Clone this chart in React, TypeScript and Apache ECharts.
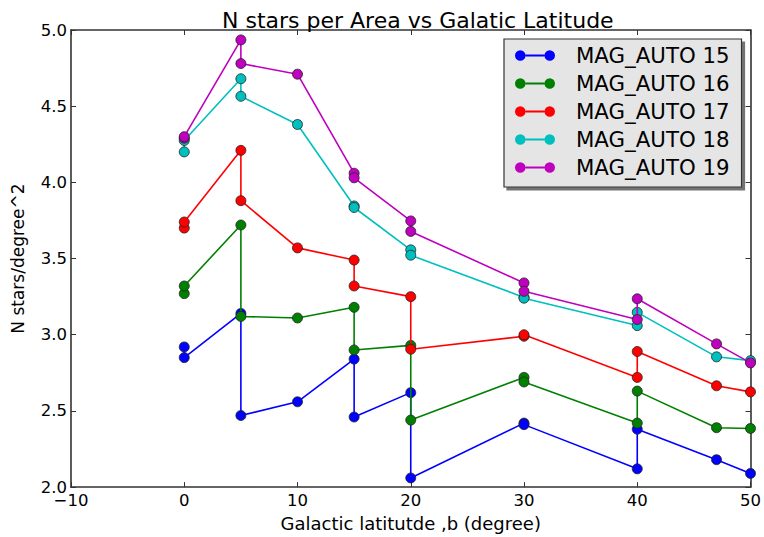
import React, { useEffect, useRef } from "react";
import * as echarts from "echarts";

const seriesNames = ["MAG_AUTO 15", "MAG_AUTO 16", "MAG_AUTO 17", "MAG_AUTO 18", "MAG_AUTO 19"];
const seriesColors = ["#0000ff", "#008000", "#ff0000", "#00bfbf", "#bf00bf"];

const mag15: [number, number][] = [
  [0, 2.92], [0, 2.85], [5, 3.14], [5, 2.47], [10, 2.56], [15, 2.84], [15, 2.46],
  [20, 2.62], [20, 2.06], [30, 2.42], [30, 2.41], [40, 2.12], [40, 2.38], [47, 2.18], [50, 2.09],
];
const mag16: [number, number][] = [
  [0, 3.27], [0, 3.32], [5, 3.72], [5, 3.12], [10, 3.11], [15, 3.18], [15, 2.9],
  [20, 2.93], [20, 2.44], [30, 2.72], [30, 2.69], [40, 2.42], [40, 2.63], [47, 2.39], [50, 2.385],
];
const mag17: [number, number][] = [
  [0, 3.7], [0, 3.74], [5, 4.21], [5, 3.88], [10, 3.57], [15, 3.49], [15, 3.32],
  [20, 3.25], [20, 2.905], [30, 2.99], [30, 3.0], [40, 2.72], [40, 2.89], [47, 2.665], [50, 2.625],
];
const mag18: [number, number][] = [
  [0, 4.2], [0, 4.275], [5, 4.68], [5, 4.565], [10, 4.38], [15, 3.845], [15, 3.835],
  [20, 3.557], [20, 3.522], [30, 3.245], [30, 3.24], [40, 3.06], [40, 3.147], [47, 2.855], [50, 2.83],
];
const mag19: [number, number][] = [
  [0, 4.29], [0, 4.3], [5, 4.935], [5, 4.78], [10, 4.71], [15, 4.06], [15, 4.03],
  [20, 3.747], [20, 3.678], [30, 3.34], [30, 3.285], [40, 3.1], [40, 3.236], [47, 2.94], [50, 2.815],
];
const seriesData = [mag15, mag16, mag17, mag18, mag19];

const xTicks = { min: -10, max: 50, interval: 10 };
const yTicks = { min: 2.0, max: 5.0, interval: 0.5 };

const FONT = "DejaVu Sans";
const legendIcon =
  "path://M1,6 A5,5 0 1 1 11,6 A5,5 0 1 1 1,6 Z M11,5.1 L29,5.1 L29,6.9 L11,6.9 Z M29,6 A5,5 0 1 1 39,6 A5,5 0 1 1 29,6 Z";

export default function App() {
  const ref = useRef<HTMLDivElement>(null);
  useEffect(() => {
    if (!ref.current) return;
    document.body.style.margin = "0";
    const chart = echarts.init(ref.current, undefined, { renderer: "svg" });
    const axisLine = { show: true, onZero: false, lineStyle: { color: "#333", width: 1.6 } };
    const axisTick = { show: true, inside: true, length: 5, lineStyle: { color: "#333", width: 1 } };
    chart.setOption({
      animation: false,
      backgroundColor: "#fff",
      textStyle: { fontFamily: FONT },
      title: {
        text: "N stars per Area vs Galatic Latitude",
        left: 217,
        top: 4,
        textStyle: { fontFamily: FONT, fontSize: 22, fontWeight: "normal", color: "#000" },
      },
      grid: { left: 71, right: 12.5, top: 30, bottom: 44.3, containLabel: false },
      legend: {
        orient: "vertical",
        left: 504,
        top: 39,
        padding: [6, 12, 9, 11],
        itemWidth: 40,
        itemHeight: 12,
        itemGap: 7,
        icon: legendIcon,
        backgroundColor: "#e5e5e5",
        borderColor: "#333",
        borderWidth: 1.2,
        borderRadius: 0,
        shadowColor: "rgba(0,0,0,0.55)",
        shadowOffsetX: 3,
        shadowOffsetY: 3,
        shadowBlur: 1,
        itemStyle: { borderWidth: 0 },
        textStyle: {
          fontFamily: FONT,
          fontSize: 21.3,
          lineHeight: 21,
          color: "#000",
          padding: [0, 0, 0, 16],
        },
        data: seriesNames,
      },
      xAxis: [
        {
          type: "value",
          min: xTicks.min,
          max: xTicks.max,
          interval: xTicks.interval,
          position: "bottom",
          axisLine,
          axisTick,
          splitLine: { show: false },
          axisLabel: {
            margin: 5,
            fontFamily: FONT,
            fontSize: 16.5,
            color: "#000",
            formatter: (v: number) => (v < 0 ? "\u2212" + Math.abs(v) : String(v)),
          },
          name: "Galactic latitutde ,b (degree)",
          nameLocation: "middle",
          nameGap: 17,
          nameTextStyle: { fontFamily: FONT, fontSize: 18, color: "#000", verticalAlign: "top" },
        },
        {
          type: "value",
          min: xTicks.min,
          max: xTicks.max,
          interval: xTicks.interval,
          position: "top",
          axisLine,
          axisTick,
          splitLine: { show: false },
          axisLabel: { show: false },
        },
      ],
      yAxis: [
        {
          type: "value",
          min: yTicks.min,
          max: yTicks.max,
          interval: yTicks.interval,
          position: "left",
          axisLine,
          axisTick,
          splitLine: { show: false },
          axisLabel: {
            margin: 4,
            fontFamily: FONT,
            fontSize: 16.5,
            color: "#000",
            formatter: (v: number) => v.toFixed(1),
          },
          name: "N stars/degree^2",
          nameLocation: "middle",
          nameGap: 45,
          nameRotate: 90,
          nameTextStyle: { fontFamily: FONT, fontSize: 17, color: "#000" },
        },
        {
          type: "value",
          min: yTicks.min,
          max: yTicks.max,
          interval: yTicks.interval,
          position: "right",
          axisLine,
          axisTick,
          splitLine: { show: false },
          axisLabel: { show: false },
        },
      ],
      series: seriesData.map((d, i) => ({
        name: seriesNames[i],
        type: "line",
        data: d,
        xAxisIndex: 0,
        yAxisIndex: 0,
        symbol: "circle",
        symbolSize: 10,
        showAllSymbol: true,
        clip: false,
        color: seriesColors[i],
        itemStyle: { color: seriesColors[i], borderColor: "#222", borderWidth: 0.8 },
        lineStyle: { color: seriesColors[i], width: 1.6 },
        emphasis: { disabled: true },
        z: 2 + i,
      })),
    });
    return () => chart.dispose();
  }, []);
  return (
    <div
      ref={ref}
      style={{ position: "absolute", left: 0, top: 0, width: 764, height: 537 }}
    />
  );
}
